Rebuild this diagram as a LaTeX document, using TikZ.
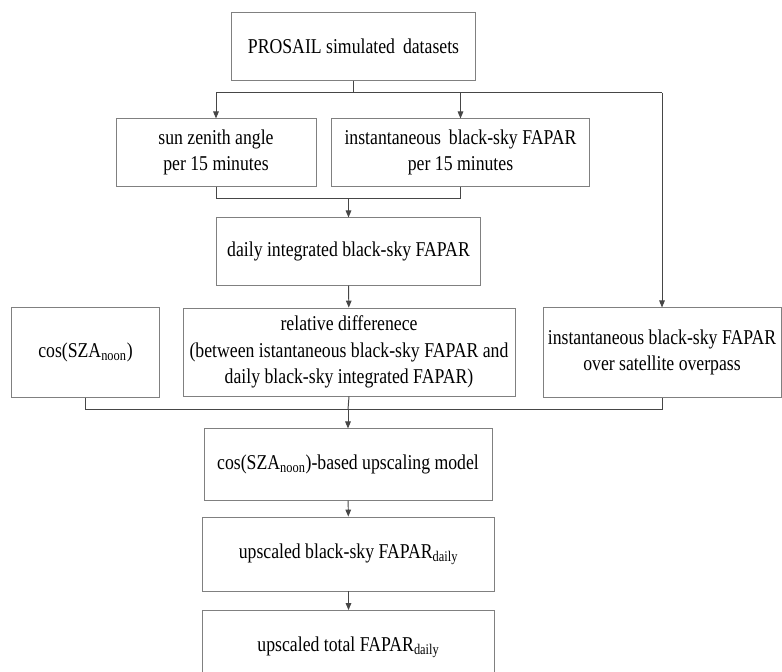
\documentclass[tikz,border=0pt]{standalone}
\usepackage{fontspec}
\setmainfont[FakeStretch=0.84]{Liberation Serif}
\usepackage{tikz}
\usetikzlibrary{arrows.meta,positioning,calc}
\definecolor{boxline}{RGB}{128,128,128}
\definecolor{flowline}{RGB}{70,70,70}

\begin{document}
\begin{tikzpicture}[
    x=0.025cm, y=-0.025cm,
    box/.style={rectangle, draw=boxline, line width=0.6pt, inner sep=0pt, align=center, font=\fontsize{15}{19}\selectfont},
    flow/.style={draw=flowline, line width=0.7pt},
    >={Triangle[length=5pt,width=4pt]}
]
    \useasboundingbox (0,0) rectangle (782,671);
    \node[box, minimum width=6.08cm, minimum height=1.68cm] (pro) at (353.5,46.5) {PROSAIL simulated\, datasets};
    \node[box, minimum width=5.0cm, minimum height=1.68cm] (sza) at (216,152.5) {sun zenith angle\\per 15 minutes};
    \node[box, minimum width=6.43cm, minimum height=1.68cm] (ins) at (460.5,152.5) {instantaneous\, black-sky FAPAR\\per 15 minutes};
    \node[box, minimum width=6.58cm, minimum height=1.68cm] (day) at (348.5,251.5) {daily integrated black-sky FAPAR};
    \node[box, minimum width=3.68cm, minimum height=2.23cm] (cosn) at (85.5,352.5) {cos(SZA\textsubscript{noon})};
    \node[box, minimum width=8.3cm, minimum height=2.2cm] (rel) at (349,352) {relative differenece\\(between istantaneous black-sky FAPAR and\\daily black-sky integrated FAPAR)};
    \node[box, minimum width=5.95cm, minimum height=2.23cm] (sat) at (662,352.5) {instantaneous black-sky FAPAR\\over satellite overpass};
    \node[box, minimum width=7.2cm, minimum height=1.78cm] (mod) at (348,464.5) {cos(SZA\textsubscript{noon})-based upscaling model};
    \node[box, minimum width=7.28cm, minimum height=1.85cm] (ubs) at (348.5,554) {upscaled black-sky FAPAR\textsubscript{daily}};
    \node[box, minimum width=7.28cm, minimum height=1.85cm] (tot) at (348.5,647.5) {upscaled total FAPAR\textsubscript{daily}};

    \coordinate (split) at ($(pro.south)+(0,12)$);
    \coordinate (join1) at ($(day.north)+(0,-19)$);
    \coordinate (join2) at ($(mod.north)+(0,-19)$);

    \draw[flow] (pro.south) -- (split);
    \draw[flow] (split -| sza.north) -- (split -| sat.north);
    \draw[flow,->] (split -| sza.north) -- (sza.north);
    \draw[flow,->] (split -| ins.north) -- (ins.north);
    \draw[flow,->] (split -| sat.north) -- (sat.north);

    \draw[flow] (sza.south) |- (join1) -| (ins.south);
    \draw[flow,->] (join1) -- (day.north);
    \draw[flow,->] (day) -- (rel);

    \draw[flow] (cosn.south) |- (join2) -| (sat.south);
    \draw[flow] (rel.south) -- (join2);
    \draw[flow,->] (join2) -- (mod.north);
    \draw[flow,->] (mod) -- (ubs);
    \draw[flow,->] (ubs) -- (tot);
\end{tikzpicture}
\end{document}
